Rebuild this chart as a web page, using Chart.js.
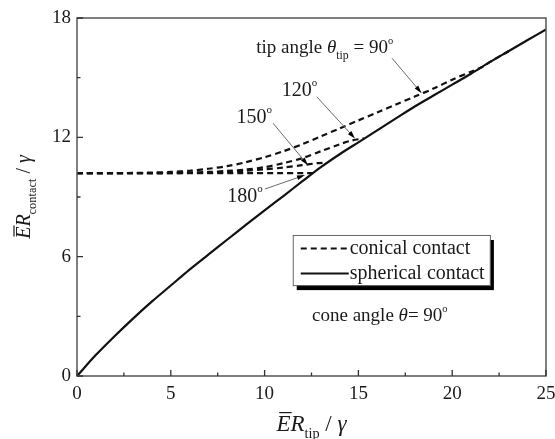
<!DOCTYPE html>
<html><head><meta charset="utf-8">
<script src="https://cdn.jsdelivr.net/npm/chart.js@4.4.0/dist/chart.umd.min.js"></script>
<style>html,body{margin:0;padding:0;background:#fff}#wrap{width:555px;height:439px}</style>
</head><body><div id="wrap"><canvas id="c" width="555" height="439"></canvas></div>
<script>
// ---- data ----
const sphereX = [0,1,2,3,4,5,6,7,8,9,10,11,12,13,14,15,16,17,18,19,20,21,22,23,24,25];
const sphereY = [0,1.05,2.0,2.9,3.75,4.55,5.35,6.1,6.85,7.6,8.33,9.05,9.78,10.5,11.15,11.75,12.35,12.95,13.55,14.1,14.65,15.2,15.78,16.33,16.88,17.42];
const cone90X  = [0,2,3,4,5,6,7,8,9,10,11,12,13,14,15,16,17,18,19,20,21,21.6,22,23];
const cone90Y  = [10.2,10.2,10.21,10.23,10.26,10.32,10.42,10.55,10.75,11.0,11.3,11.65,12.05,12.45,12.85,13.25,13.65,14.05,14.45,14.9,15.3,15.54,15.78,16.33];
const cone120X = [0,3,4,5,6,7,8,9,10,11,12,13,14,14.6,15.3];
const cone120Y = [10.2,10.2,10.2,10.21,10.23,10.26,10.31,10.38,10.5,10.7,10.95,11.3,11.65,11.83,11.95];
const cone150X = [0,4,5,6,7,8,9,10,11,12,12.8,13.3];
const cone150Y = [10.2,10.2,10.2,10.21,10.23,10.27,10.32,10.39,10.48,10.6,10.7,10.73];
const cone180X = [0,12.6];
const cone180Y = [10.2,10.2];
const xTicks = [0,5,10,15,20,25];
const yTicks = [0,6,12,18];
const xMinor = [2.5,7.5,12.5,17.5,22.5];
const yMinor = [3,9,15];
const legendLabels = ['conical contact','spherical contact'];
// annotation arrows: [label, tailX, tailY, headX, headY]
const arrowNotes = [
  ['90', 16.79, 15.98, 18.37, 14.22],
  ['120', 12.78, 14.04, 14.82, 11.94],
  ['150', 10.45, 12.71, 12.31, 10.6],
  ['180', 10.02, 9.4, 12.15, 10.1]
];

const pts = (xs, ys) => xs.map((x, i) => ({x, y: ys[i]}));
const SERIF = '"Liberation Serif","Times New Roman",serif';
const INK = '#1a1a1a';

function font(size, it) { return (it ? 'italic ' : '') + size + 'px ' + SERIF; }

function richWidth(ctx, parts, size) {
  let w = 0;
  for (const p of parts) {
    const s = (p.sub || p.sup) ? size * (p.sup ? 0.55 : 0.62) : size;
    ctx.font = font(s, p.it);
    w += ctx.measureText(p.t).width;
  }
  return w;
}
function drawRich(ctx, parts, x, y, align, size, color) {
  const w = richWidth(ctx, parts, size);
  let cx = align === 'right' ? x - w : align === 'center' ? x - w / 2 : x;
  ctx.fillStyle = color; ctx.strokeStyle = color;
  ctx.textAlign = 'left'; ctx.textBaseline = 'alphabetic';
  for (const p of parts) {
    const s = (p.sub || p.sup) ? size * (p.sup ? 0.55 : 0.62) : size;
    ctx.font = font(s, p.it);
    const dy = p.sub ? size * 0.3 : p.sup ? -size * 0.5 : 0;
    const pw = ctx.measureText(p.t).width;
    ctx.fillText(p.t, cx, y + dy);
    if (p.bar) {
      ctx.beginPath(); ctx.lineWidth = 1.2;
      ctx.moveTo(cx + size * 0.12, y - size * 0.8); ctx.lineTo(cx + pw + size * 0.05, y - size * 0.8); ctx.stroke();
    }
    cx += pw;
  }
  return w;
}
const deg = {t: 'o', sup: true};

function arrow(ctx, x1, y1, x2, y2) {
  ctx.save();
  const a = Math.atan2(y2 - y1, x2 - x1);
  const L = 8, W = 2.3;
  ctx.strokeStyle = '#6a6a6a'; ctx.lineWidth = 1;
  ctx.beginPath(); ctx.moveTo(x1, y1); ctx.lineTo(x2 - Math.cos(a) * L * 0.6, y2 - Math.sin(a) * L * 0.6); ctx.stroke();
  ctx.fillStyle = '#000';
  ctx.beginPath();
  ctx.moveTo(x2, y2);
  ctx.lineTo(x2 - Math.cos(a) * L - Math.sin(a) * W, y2 - Math.sin(a) * L + Math.cos(a) * W);
  ctx.lineTo(x2 - Math.cos(a) * L + Math.sin(a) * W, y2 - Math.sin(a) * L - Math.cos(a) * W);
  ctx.closePath(); ctx.fill();
  ctx.restore();
}

const decor = {
  id: 'decor',
  afterDraw(chart) {
    const {ctx, chartArea: ca, scales: {x, y}} = chart;
    ctx.save();
    // frame
    ctx.strokeStyle = '#555'; ctx.lineWidth = 1.5;
    ctx.strokeRect(ca.left, ca.top, ca.right - ca.left, ca.bottom - ca.top);
    // inward ticks
    ctx.strokeStyle = '#333'; ctx.lineWidth = 1.3;
    ctx.beginPath();
    xTicks.forEach(v => { const px = x.getPixelForValue(v); ctx.moveTo(px, ca.bottom); ctx.lineTo(px, ca.bottom - 6); });
    xMinor.forEach(v => { const px = x.getPixelForValue(v); ctx.moveTo(px, ca.bottom); ctx.lineTo(px, ca.bottom - 3.5); });
    yTicks.forEach(v => { const py = y.getPixelForValue(v); ctx.moveTo(ca.left, py); ctx.lineTo(ca.left + 6, py); });
    yMinor.forEach(v => { const py = y.getPixelForValue(v); ctx.moveTo(ca.left, py); ctx.lineTo(ca.left + 3.5, py); });
    ctx.stroke();

    // arrows
    arrowNotes.forEach(([lab, tx, ty, hx, hy]) => {
      arrow(ctx, x.getPixelForValue(tx), y.getPixelForValue(ty), x.getPixelForValue(hx), y.getPixelForValue(hy));
    });
    // labels
    const P = (vx, vy) => [x.getPixelForValue(vx), y.getPixelForValue(vy)];
    let [lx, ly] = P(16.85, 16.23);
    drawRich(ctx, [{t: 'tip angle '}, {t: 'θ', it: true}, {t: 'tip', sub: true}, {t: ' = 90'}, deg], lx, ly, 'right', 19, INK);
    [lx, ly] = P(12.8, 14.07);
    drawRich(ctx, [{t: '120'}, deg], lx, ly, 'right', 20, INK);
    [lx, ly] = P(10.4, 12.7);
    drawRich(ctx, [{t: '150'}, deg], lx, ly, 'right', 20, INK);
    [lx, ly] = P(9.9, 8.74);
    drawRich(ctx, [{t: '180'}, deg], lx, ly, 'right', 20, INK);
    [lx, ly] = P(12.53, 2.76);
    drawRich(ctx, [{t: 'cone angle '}, {t: 'θ', it: true}, {t: '= 90'}, deg], lx, ly, 'left', 19, INK);

    // legend box with shadow
    const [bx1, by1] = P(11.5, 7.09), [bx2, by2] = P(22.01, 4.57);
    ctx.fillStyle = '#000';
    ctx.fillRect(bx1 + 4, by1 + 5, bx2 - bx1, by2 - by1);
    ctx.fillStyle = '#fff';
    ctx.fillRect(bx1, by1, bx2 - bx1, by2 - by1);
    ctx.strokeStyle = '#666'; ctx.lineWidth = 1;
    ctx.strokeRect(bx1 + 0.5, by1 + 0.5, bx2 - bx1, by2 - by1);
    const rows = [[chart.data.datasets[0], by1 + 13.5], [chart.data.datasets[4], by1 + 38.5]];
    rows.forEach(([ds, ry], i) => {
      ctx.strokeStyle = ds.borderColor; ctx.lineWidth = ds.borderWidth;
      ctx.setLineDash(ds.borderDash || []);
      ctx.beginPath(); ctx.moveTo(bx1 + 8, ry); ctx.lineTo(bx1 + 56, ry); ctx.stroke();
      ctx.setLineDash([]);
      ctx.fillStyle = INK; ctx.font = font(20); ctx.textBaseline = 'middle'; ctx.textAlign = 'left';
      ctx.fillText(legendLabels[i], bx1 + 57, ry);
    });

    // axis titles
    drawRich(ctx, [{t: 'E', it: true, bar: true}, {t: 'R', it: true}, {t: 'tip', sub: true}, {t: ' / '}, {t: 'γ', it: true}],
      (ca.left + ca.right) / 2, 431, 'center', 23, INK);
    ctx.save();
    ctx.translate(30, (ca.top + ca.bottom) / 2);
    ctx.rotate(-Math.PI / 2);
    drawRich(ctx, [{t: 'E', it: true, bar: true}, {t: 'R', it: true}, {t: 'contact', sub: true}, {t: ' / '}, {t: 'γ', it: true}],
      0, 0, 'center', 20, INK);
    ctx.restore();
    ctx.restore();
  }
};

const dashStyle = {borderColor: '#111', borderWidth: 2.2, borderDash: [6, 4], pointRadius: 0, fill: false, tension: 0.3};
new Chart(document.getElementById('c'), {
  type: 'scatter',
  data: {
    datasets: [
      Object.assign({label: 'conical 90', data: pts(cone90X, cone90Y), showLine: true}, dashStyle),
      Object.assign({label: 'conical 120', data: pts(cone120X, cone120Y), showLine: true}, dashStyle),
      Object.assign({label: 'conical 150', data: pts(cone150X, cone150Y), showLine: true}, dashStyle),
      Object.assign({label: 'conical 180', data: pts(cone180X, cone180Y), showLine: true}, dashStyle),
      {label: 'spherical contact', data: pts(sphereX, sphereY), showLine: true, borderColor: '#111', borderWidth: 2.2, pointRadius: 0, tension: 0.3}
    ]
  },
  options: {
    responsive: false, animation: false, devicePixelRatio: 1,
    layout: {padding: {top: 18, right: 9, left: 0, bottom: 0}},
    plugins: {legend: {display: false}, tooltip: {enabled: false}},
    scales: {
      x: {type: 'linear', min: 0, max: 25,
        grid: {display: false, drawTicks: false}, border: {display: false},
        ticks: {stepSize: 5, padding: 7, color: INK, font: {family: SERIF, size: 19}},
        afterFit: s => { s.height = 63; s.paddingLeft = 0; s.paddingRight = 0; }},
      y: {type: 'linear', min: 0, max: 18,
        grid: {display: false, drawTicks: false}, border: {display: false},
        ticks: {stepSize: 6, padding: 6, color: INK, font: {family: SERIF, size: 19}},
        afterFit: s => { s.width = 77; s.paddingTop = 0; s.paddingBottom = 0; }}
    }
  },
  plugins: [decor]
});
</script></body></html>
